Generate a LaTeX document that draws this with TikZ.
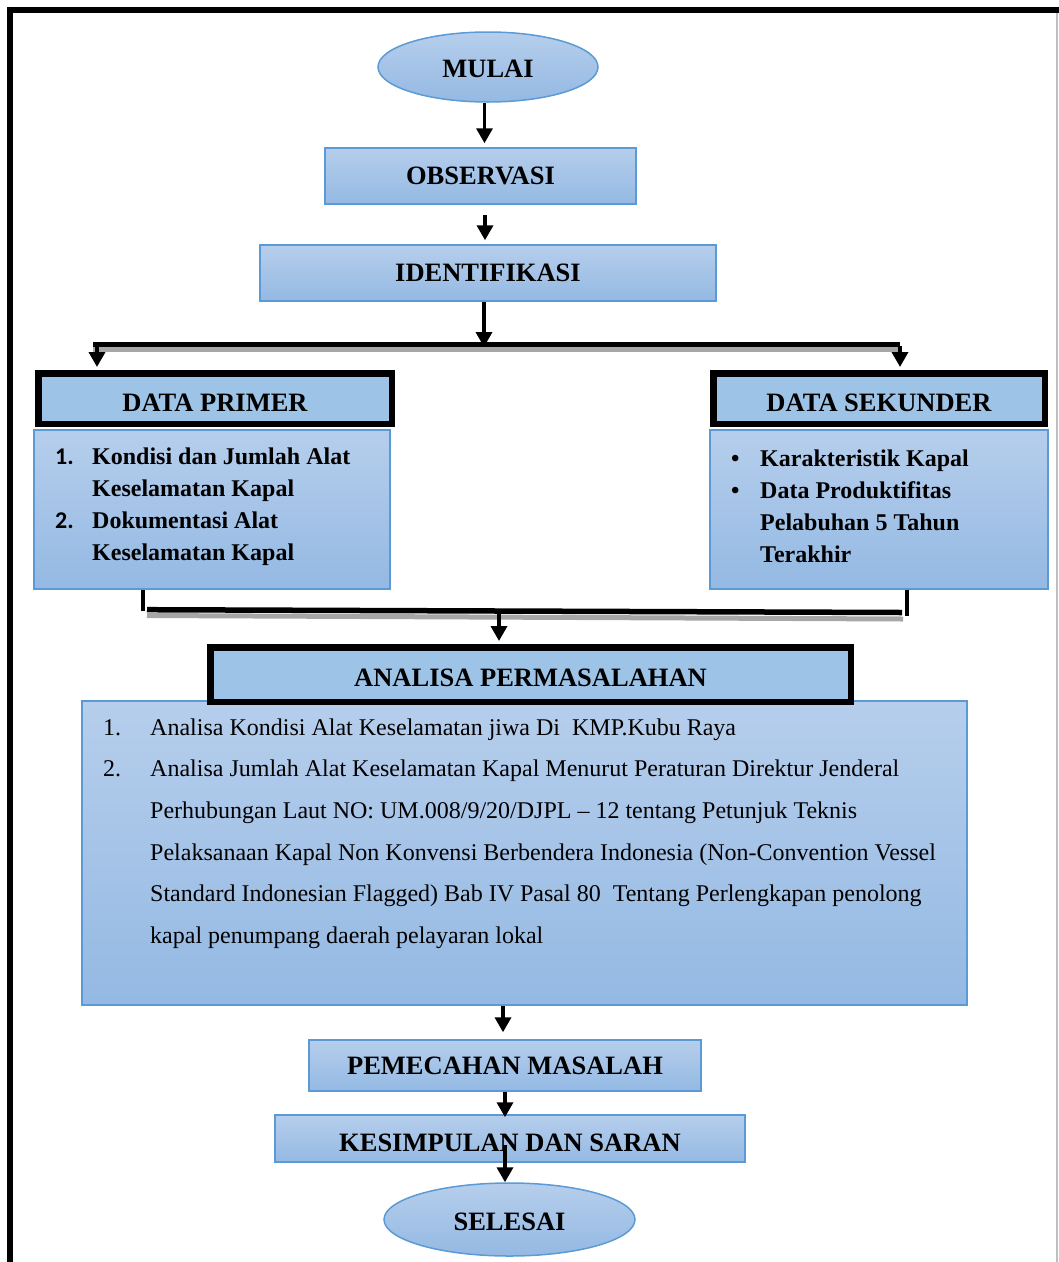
\documentclass[tikz,border=0pt]{standalone}
\usepackage{fontspec}
\setmainfont{Liberation Serif}
\newfontfamily\numfont{Carlito}
\usetikzlibrary{shapes.geometric,arrows.meta}
\definecolor{gtop}{RGB}{182,206,236}
\definecolor{gbot}{RGB}{148,185,227}
\definecolor{bord}{RGB}{91,155,213}
\definecolor{flat}{RGB}{157,195,230}
\newcommand{\hfont}{\fontsize{26.5}{30}\selectfont\bfseries}
\begin{document}
\begin{tikzpicture}[x=1pt,y=-1pt,
  gbox/.style={draw=bord, line width=1.5pt, top color=gtop, bottom color=gbot, inner sep=0pt, font=\hfont, text depth=0pt},
  hbox/.style={draw=black, line width=6.5pt, fill=flat, inner sep=0pt, font=\hfont, text depth=0pt},
  arr/.style={line width=3.5pt, -{Triangle[width=16pt,length=15pt]}},
  stub/.style={line width=3.5pt},
  bar/.style={line width=5pt},
  barshadow/.style={line width=5pt, draw=black!35},
  listtext/.style={anchor=base west, inner sep=0pt}]
\useasboundingbox (0,0) rectangle (1059,1262);

% frame
\draw[line width=6pt, miter limit=10] (10,1262) -- (10,10.3) -- (1059,10.3);
\draw[black!25, line width=1.5pt] (1057,13) -- (1057,1262);

% top nodes
\node[gbox, ellipse, minimum width=220pt, minimum height=70pt, text height=20pt] (mulai) at (488,67) {MULAI};
\node[gbox, minimum width=311pt, minimum height=56pt, text height=16pt] (obs) at (480.5,176) {OBSERVASI};
\node[gbox, minimum width=456pt, minimum height=56pt, text height=16pt] (ident) at (488,273) {IDENTIFIKASI};

\draw[arr] ([xshift=-3.5pt]mulai.south) -- ([xshift=4pt,yshift=4pt]obs.north);
\draw[arr] ([xshift=4.5pt,yshift=-10pt]obs.south) -- ([xshift=-3pt,yshift=4pt]ident.north);

% branching bar 1
\coordinate (b1l) at (93,344);
\coordinate (b1r) at (900,344);
\draw[barshadow] (93,349) -- (898,349);
\draw[bar] (b1l) -- (b1r);
\coordinate (j1) at (484,347);
\draw[arr] ([xshift=-4pt]ident.south) -- (j1);

% data headings
\node[hbox, minimum width=353.5pt, minimum height=50.5pt, text height=25pt] (dp) at (215,398.5) {DATA PRIMER};
\node[hbox, minimum width=331.5pt, minimum height=50.5pt, text height=25pt] (ds) at (879,398.5) {DATA SEKUNDER};

\coordinate (b1a) at (97,346);
\coordinate (b1b) at (900,346);
\draw[arr] (b1a) -- ([xshift=-118pt,yshift=3pt]dp.north);
\draw[arr] (b1b) -- ([xshift=21pt,yshift=3pt]ds.north);

% data contents
\node[gbox, minimum width=356pt, minimum height=159pt] (pb) at (212,509.5) {};
\node[gbox, minimum width=338pt, minimum height=159pt] (sb) at (879,509.5) {};

\node[listtext, font=\fontsize{24}{32}\selectfont\bfseries] (plist) at (55,464)
 {\begin{tabular}[t]{@{}p{37pt}@{}l@{}}
 {\numfont 1.} & Kondisi dan Jumlah Alat\\
  & Keselamatan Kapal\\
 {\numfont 2.} & Dokumentasi Alat\\
  & Keselamatan Kapal
 \end{tabular}};
\node[listtext, font=\fontsize{24}{32.3}\selectfont\bfseries] (slist) at (731,466)
 {\begin{tabular}[t]{@{}p{29pt}@{}l@{}}
 • & Karakteristik Kapal\\
 • & Data Produktifitas\\
  & Pelabuhan 5 Tahun\\
  & Terakhir
 \end{tabular}};

% merge bar 2
\draw[stub] ([xshift=-69pt]pb.south) -- ++(0,21);
\draw[stub] ([xshift=28pt]sb.south) -- ++(0,26);
\draw[barshadow] (147,615.5) -- (903,619);
\draw[bar, line width=5.5pt] (147,609.7) -- (902,612.5);
\coordinate (b2a) at (499,612);

% analisa
\node[gbox, minimum width=885pt, minimum height=304pt] (ab) at (524.5,853) {};
\node[hbox, minimum width=640.5pt, minimum height=54.5pt, text height=23pt] (ah) at (530.5,674.5) {ANALISA PERMASALAHAN};
\draw[arr] (b2a) -- ([xshift=-31.5pt,yshift=3pt]ah.north);

\node[listtext, font=\fontsize{24}{41.7}\selectfont] (abody) at (103,735)
 {\begin{tabular}[t]{@{}p{47pt}@{}l@{}}
 1. & Analisa Kondisi Alat Keselamatan jiwa Di\ \ KMP.Kubu Raya\\
 2. & Analisa Jumlah Alat Keselamatan Kapal Menurut Peraturan Direktur Jenderal\\
  & Perhubungan Laut NO: UM.008/9/20/DJPL – 12 tentang Petunjuk Teknis\\
  & Pelaksanaan Kapal Non Konvensi Berbendera Indonesia (Non-Convention Vessel\\
  & Standard Indonesian Flagged) Bab IV Pasal 80\ \ Tentang Perlengkapan penolong\\
  & kapal penumpang daerah pelayaran lokal
 \end{tabular}};

% bottom
\node[gbox, minimum width=392pt, minimum height=51pt, text height=17pt] (pem) at (505,1065.5) {PEMECAHAN MASALAH};
\node[gbox, minimum width=470pt, minimum height=47pt, text height=25pt] (kes) at (510,1138.5) {KESIMPULAN DAN SARAN};
\node[gbox, ellipse, minimum width=251pt, minimum height=73pt, text height=21pt] (sel) at (509.5,1219.5) {SELESAI};

\draw[arr] ([xshift=-21.5pt]ab.south) -- ([xshift=-2pt,yshift=7pt]pem.north);
\draw[arr] (pem.south) -- ([xshift=-5pt,yshift=-3pt]kes.north);
\draw[arr] ([xshift=-5pt,yshift=-6.5pt]kes.center) -- ([xshift=-4.5pt]sel.north);
\end{tikzpicture}
\end{document}
